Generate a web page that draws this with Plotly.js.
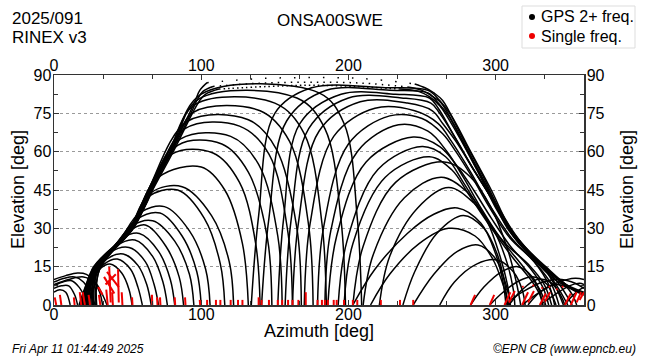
<!DOCTYPE html>
<html><head><meta charset="utf-8">
<script src="https://cdn.plot.ly/plotly-3.0.1.min.js"></script>
<style>html,body{margin:0;padding:0;background:#fff}#chart{width:650px;height:360px}</style>
</head><body><div id="chart"></div>
<script>
// ---- tracks rising along the western envelope, setting in the middle
const leftArcAz = [
  [20,25,31,38,46,51,53],
  [21,26,34,43,52,57,60],
  [22,27,36,47,57,63,66],
  [18,26,38,51,62,68,71],
  [19,27,42,55,67,74,77],
  [20,28,36,46,58,71,79,82],
  [21,28,37,50,62,76,85,88],
  [22,28,38,53,67,82,92,95],
  [23,28,44,56,72,87,97,100],
  [24,29,45,58,75,92,103,106],
  [25,29,52,63,84,102,113,116],
  [26,30,53,66,87,107,119,122],
  [27,30,54,71,100,116,128,132],
  [28,31,53,61,80,108,126,137,140],
  [29,31,54,63,84,114,132,145,148],
  [17,27,51,64,86,120,139,152,155],
  [18,28,53,66,89,126,146,159,162],
  [19,26,52,64,91,132,151,165,168],
  [20,28,53,66,80,95,140,160,173,176],
  [21,27,51,64,78,96,150,170,182,185],
  [22,28,53,66,80,98,165,184,195,198],
  [23,26,52,65,79,100,180,197,206,209]
];
const leftArcEl = [
  [0,9,14,16,12.5,6,0],
  [0,10,16,18,14,7,0],
  [0,11,18,20,15.5,8,0],
  [0,12,20.5,22.5,17,8,0],
  [0,13,23,25.4,19,9,0],
  [0,13,19.5,26,28,21,10,0],
  [0,13,20,28.5,31.3,23,11,0],
  [0,13,20.5,31,33,25,12,0],
  [0,13,25,33.5,36,27,13,0],
  [0,13.5,25.5,36,38.5,29,14,0],
  [0,13.5,30.5,42,45,34,16,0],
  [0,14,31,44,46.3,35,17,0],
  [0,14,30.5,50,54,45,24,0],
  [0,14,30,38,59,59.5,48,24,0],
  [0,14,30,40,62.5,63,52,26,0],
  [0,14,29.5,45,65,66,55,27,0],
  [0,14,29.5,45,69,70,59,28,0],
  [0,14,29.5,45,72,72.5,61,30,0],
  [0,14,29.5,45,60,75.5,76,64,31,0],
  [0,14,29.5,45,60,78.5,79,67,32,0],
  [0,14,29.5,45,60,80.5,81,69,33,0],
  [0,14,29.5,45,60,82.5,83,71,34,0]
];
// ---- tracks rising in the middle, setting along the eastern envelope
const rightArcAz = [
  [134,139,150,175,225,254,262,270,283,297,310,326,342,352,360],
  [141,146,158,185,228,254,261,268,281,295,308,324,340,351,360],
  [152,156,167,195,232,255,261,271,284,297,312,328,342,352],
  [157,161,173,200,236,256,262,272,285,298,313,329,341,349],
  [162,166,180,208,240,257,264,273,286,299,314,330,340,346],
  [170,174,190,218,245,261,270,283,296,311,327,338,343],
  [179,183,200,228,250,264,273,284,296,310,326,336,340],
  [184,188,206,234,254,267,278,291,305,322,333,338],
  [186,192,212,244,262,273,285,297,310,324,332,336],
  [193,199,220,250,266,278,292,306,320,330,334],
  [197,203,225,255,270,282,296,311,325,330,332],
  [203,210,232,265,283,297,308,314,317],
  [210,217,238,263,281,294,303,308,310],
  [221,228,247,268,285,299,308,312,313],
  [203,218,240,258,274,290,300,305,307],
  [237,245,260,278,292,301,306,308],
  [215,228,248,268,286,298,305,309]
];
const rightArcEl = [
  [0,35,75,85,85,84,80,74,60,45,30,19,10,6,4],
  [0,34,72,84,84,83,79,74,60,45,30,19,10,6.5,4.5],
  [0,34,71,82.5,82.5,81,77,67,54,42,27,17,9,0],
  [0,33,69,81,81,79,75,66,53,41,27,17,8,0],
  [0,32,68,79.5,79,76,71,64,52,40,26,16.5,8,0],
  [0,32,66,77,76,71,64,52,39,26,16.5,8,0],
  [0,30,63,74,73,67,60,50,38,26,17,8,0],
  [0,29,60,70.5,68,60,50,37,25,16,8,0],
  [0,27,56,65.7,62,55,45,34,23,14,7,0],
  [0,25,53,62,58,48,35,24,14,6,0],
  [0,24,50,58,53,43,31,19,9,4,0],
  [0,23,48,56,50,38,22,9,0],
  [0,20,42,50,44,33,19,8,0],
  [0,19,38,46,40,29,16,6,0],
  [0,14,28,35.5,38,32,20,9,0],
  [0,13,28,35,30,20,9,0],
  [0,12,24,30,27,18,8,0]
];
// ---- low tracks near north (both edges)
const lowArcAz = [
  [244,258,274,288,300,307,310],
  [262,272,287,301,312,318,320],
  [283,292,304,315,325,330,332],
  [296,305,316,326,335,339,341],
  [306,318,332,345,354,360],
  [318,330,343,354,360],
  [330,340,350,357,360],
  [347,352,357,360],
  [309,318,328,337,344,347],
  [322,330,340,348,353,355],
  [0,8,16,22,28,33,36],
  [0,7,14,20,25,28],
  [0,6,12,17,21,23],
  [0,5,10,14,16],
  [0,4,8,11],
  [0,10,20,27,31,33]
];
const lowArcEl = [
  [0,12,21,23.5,18,8,0],
  [0,9,16,17.6,13,6,0],
  [0,7,13,15,11,5,0],
  [0,5,9.5,11,8,3,0],
  [0,5,9,10,8.5,6.5],
  [0,5,9,10.5,10],
  [0,4,7.5,8.5,8],
  [0,3.5,6,7],
  [0,6,10,9,4,0],
  [0,5,8,7,3,0],
  [10,11.5,12.5,12,9,4,0],
  [9,10.5,11,9,4,0],
  [7.5,9,9.5,7,3,0],
  [6.5,7.5,7.5,4,0],
  [5,6,5,0],
  [8,10,11,9,5,0]
];
// ---- near-zenith passes: rising part, sparse top part, setting part
const zenRiseAz = [
  [22,27,52,65,79,92,96,99,104],
  [24,28,53,66,80,93,97,101,108],
  [26,29,54,67,81,94,99,103,112]
];
const zenRiseEl = [
  [0,14,29.5,45,60,75,80,84,87],
  [0,14,30,45,60,75,80,83.5,85.5],
  [0,14,30.5,45,60,75,80,82.5,84.5]
];
const zenTopAz = [
  [104,140,175,210,245],
  [108,140,175,210,240],
  [112,145,175,205,235]
];
const zenTopEl = [
  [87,88.6,89,88.6,86.5],
  [85.5,86.8,87.2,86.8,85.3],
  [84.5,85.5,86,85.5,84.5]
];
const zenSetAz = [
  [245,252,258,264,276,290,303,318,334,350,360],
  [240,250,256,263,275,289,302,317,333,349,360],
  [235,248,255,262,274,288,301,316,332,348,360]
];
const zenSetEl = [
  [86.5,85,83,80,67,52,37,24,15,7,4],
  [85.3,84,82,79,67,52,37,24,15,7.5,4.5],
  [84.5,83.5,81.5,78,67,52,37,24,15,8,5]
];
// ---- single-frequency observations (red)
const redSegAz = [
  [0.5,1.5],[4,5],[13.5,14],[17.5,18.5],[19.5,21],[23.5,24.5],[30.5,31.5],[35.5,36.5],
  [39.5,40],[43.5,44],[37.5,38.5],[46,46.5],[34,41],[36,44],[35,42],[30,33],
  [53,53.3],[66.5,66.8],[70,70.3],[72,72.3],[82,82.3],[89,89.3],[99,99.3],
  [283,286],[296,299],[306,310],[309,313],[318,322],[322,326],[330,334],[333,337],
  [347,351],[351,355],[355,358],[357,360],
  [318,319],[325,326],[331,332],[336,337],[341,342],[345,346]
];
const redSegEl = [
  [3,0],[4,0],[3,0],[5,0],[5,0],[4,0],[4,0],[6,0],
  [5,0],[14,1],[15,1],[5,0],[11,4.5],[13,7],[8,12],[7,4],
  [3,0],[4,0],[3,0],[3,0],[3,0],[3,0],[2,0],
  [0,4],[0,4],[0,5],[1,5.5],[0,5],[1,5.5],[0,4.5],[1,5],
  [0,4.5],[0,5],[1,5],[2,5],
  [7,7.3],[7.5,7.8],[6.5,6.8],[7,7.3],[6,6.3],[7,7.3]
];
const redTipAz = [104,110,113,120,125,128,139,141,146,152,155,159,162,166,171,179,182,184,186,190,192,197,203,206,222,235,244];
const redTipEl = [2,2,2,2,2,2,3,2,2,2,2,2,2,2,5,2,2,2,2,2,2,2,2,2,2,2,2];

const yTicks = [0,15,30,45,60,75,90];
const xTicks = [0,100,200,300];

function join(azs, els){
  const x=[], y=[];
  azs.forEach((a,i)=>{ x.push(...a, null); y.push(...els[i], null); });
  return {x, y};
}
const black = join([...leftArcAz, ...rightArcAz, ...lowArcAz, ...zenRiseAz, ...zenSetAz],
                   [...leftArcEl, ...rightArcEl, ...lowArcEl, ...zenRiseEl, ...zenSetEl]);
const red = join(redSegAz, redSegEl);
const tips = join(redTipAz.map(a=>[a,a]), redTipEl.map(h=>[0,h]));

const traces = [
  {x:black.x, y:black.y, mode:'lines', line:{color:'#000', width:1.5, shape:'spline', smoothing:1},
   connectgaps:false, hoverinfo:'skip', showlegend:false},
  {x:zenTopAz[0], y:zenTopEl[0], mode:'lines', line:{color:'#000', width:1.5, shape:'spline', dash:'1.5px,13px'}, hoverinfo:'skip', showlegend:false},
  {x:zenTopAz[1], y:zenTopEl[1], mode:'lines', line:{color:'#000', width:1.5, shape:'spline', dash:'1.5px,5px'}, hoverinfo:'skip', showlegend:false},
  {x:zenTopAz[2], y:zenTopEl[2], mode:'lines', line:{color:'#000', width:1.5, shape:'spline', dash:'1.5px,3px'}, hoverinfo:'skip', showlegend:false},
  {x:red.x, y:red.y, mode:'lines', line:{color:'#ee0000', width:2}, connectgaps:false, hoverinfo:'skip', showlegend:false},
  {x:tips.x, y:tips.y, mode:'lines', line:{color:'#ee0000', width:2}, connectgaps:false, hoverinfo:'skip', showlegend:false},
  {x:[-50], y:[-50], xaxis:'x2', yaxis:'y2', mode:'markers', hoverinfo:'skip', showlegend:false}
];

const L=54, R=584, T=75, B=305;
const px = v => (v-L)/(R-L);
const py = v => (B-v)/(B-T);
const FONT = 'Liberation Sans, Arial, sans-serif';

const axCommon = {
  ticks:'inside', ticklen:5, tickwidth:1, tickcolor:'#333',
  showline:true, linecolor:'#333', linewidth:1.5, zeroline:false,
  tickfont:{family:FONT, size:16, color:'#000'}, fixedrange:true
};
const xCommon = Object.assign({}, axCommon, {
  range:[0,360], tickmode:'array', tickvals:xTicks, ticktext:xTicks.map(String), showgrid:false,
  minor:{tick0:0, dtick:100/3, ticklen:4, tickcolor:'#333', ticks:'inside', showgrid:false}
});
const yCommon = Object.assign({}, axCommon, {
  range:[0,90], tickmode:'array', tickvals:yTicks, ticktext:yTicks.map(String), ticklabelstandoff:-2,
  minor:{tick0:0, dtick:7.5, ticklen:4, tickcolor:'#333', ticks:'inside', showgrid:false}
});

const layout = {
  width:650, height:360, margin:{l:L, r:650-R, t:T, b:360-B}, autosize:false,
  paper_bgcolor:'#fff', plot_bgcolor:'#fff', showlegend:false,
  font:{family:FONT, color:'#000'},
  xaxis:Object.assign({}, xCommon, {side:'bottom', anchor:'y', ticklabelstandoff:-6}),
  xaxis2:Object.assign({}, xCommon, {side:'top', overlaying:'x', anchor:'y', ticklabelstandoff:-4}),
  yaxis:Object.assign({}, yCommon, {side:'left', anchor:'x', showgrid:true, gridcolor:'#9a9a9a', gridwidth:1, griddash:'dot'}),
  yaxis2:Object.assign({}, yCommon, {side:'right', overlaying:'y', anchor:'x', showgrid:false}),
  shapes:[
    {type:'rect', xref:'paper', yref:'paper', x0:px(522), x1:px(635), y0:py(6), y1:py(48), line:{color:'#dddddd', width:1}, fillcolor:'#fff'},
    {type:'circle', xref:'paper', yref:'paper', x0:px(529), x1:px(535), y0:py(14), y1:py(20), line:{width:0}, fillcolor:'#000'},
    {type:'circle', xref:'paper', yref:'paper', x0:px(529), x1:px(535), y0:py(33), y1:py(39), line:{width:0}, fillcolor:'#ee0000'}
  ],
  annotations:[
    {text:'2025/091', x:px(10), y:py(18), xanchor:'left', yanchor:'middle', font:{size:17}},
    {text:'RINEX v3', x:px(10), y:py(37), xanchor:'left', yanchor:'middle', font:{size:17}},
    {text:'ONSA00SWE', x:px(330), y:py(20), xanchor:'center', yanchor:'middle', font:{size:17}},
    {text:'GPS 2+ freq.', x:px(539), y:py(17), xanchor:'left', yanchor:'middle', font:{size:16}},
    {text:'Single freq.', x:px(539), y:py(36), xanchor:'left', yanchor:'middle', font:{size:16}},
    {text:'Elevation [deg]', x:px(18), y:py(190), xanchor:'center', yanchor:'middle', textangle:-90, font:{size:18}},
    {text:'Elevation [deg]', x:px(627), y:py(190), xanchor:'center', yanchor:'middle', textangle:-90, font:{size:18}},
    {text:'Azimuth [deg]', x:px(319), y:py(331), xanchor:'center', yanchor:'middle', font:{size:18}},
    {text:'<i>Fri Apr 11 01:44:49 2025</i>', x:px(10), y:py(349), xanchor:'left', yanchor:'middle', font:{size:12}},
    {text:'<i>\u00A9EPN CB (www.epncb.eu)</i>', x:px(638), y:py(349), xanchor:'right', yanchor:'middle', font:{size:12}}
  ].map(a=>Object.assign({xref:'paper', yref:'paper', showarrow:false}, a))
};

Plotly.newPlot('chart', traces, layout, {staticPlot:true, displayModeBar:false});
</script>
</body></html>
